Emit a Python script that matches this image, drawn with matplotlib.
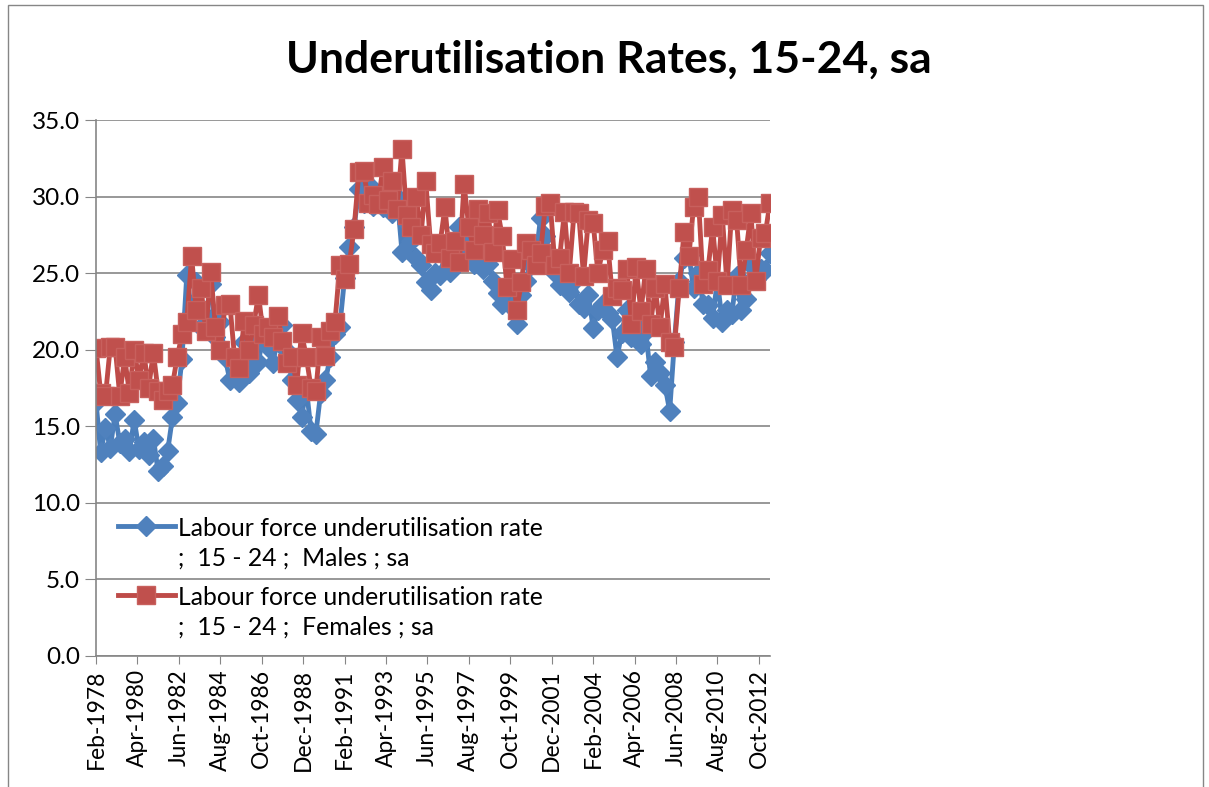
import numpy as np
import pandas as pd
import matplotlib
import matplotlib.pyplot as plt
import matplotlib.dates as mdates
from matplotlib.patches import Rectangle

matplotlib.use('Agg')

# quarterly readings, Feb-1978 .. May-2013
start = '1978-02-01'
males = [
    16.6, 13.3, 14.9, 13.6,
    15.8, 13.9, 14.2, 13.4,
    15.4, 13.5, 14.0, 13.1,
    14.2, 12.1, 12.4, 13.4,
    15.6, 16.5, 19.4, 24.9,
    22.4, 24.4, 21.5, 22.2,
    24.3, 20.8, 21.8, 19.5,
    18.0, 19.3, 17.9, 20.5,
    18.5, 20.6, 19.2, 21.0,
    20.2, 19.1, 20.7, 21.6,
    19.9, 18.0, 16.7, 15.6,
    17.5, 14.7, 14.5, 17.2,
    18.0, 19.5, 21.0, 21.5,
    24.7, 26.7, 28.0, 30.5,
    29.6, 30.8, 29.4, 30.2,
    29.3, 30.6, 28.9, 30.0,
    26.4, 28.3, 27.1, 26.0,
    25.5, 24.4, 23.9, 25.0,
    24.9, 26.2, 25.1, 26.4,
    28.0, 26.6, 27.2, 25.6,
    26.0, 25.3, 25.6, 24.5,
    23.7, 23.0, 24.0, 22.8,
    21.7, 23.6, 24.5, 25.5,
    26.0, 28.6, 27.4, 26.2,
    25.0, 24.2, 24.6, 23.8,
    24.5, 23.0, 22.7, 23.6,
    21.4, 22.6, 23.0, 22.4,
    22.0, 19.5, 21.1, 22.6,
    20.8, 21.6, 20.4, 21.2,
    18.3, 19.2, 18.5, 17.7,
    16.0, 20.5, 24.5, 26.0,
    26.2, 24.0, 25.0, 23.0,
    22.9, 22.1, 24.5, 21.8,
    22.6, 22.3, 24.8, 22.6,
    23.3, 25.5, 24.6, 25.3,
    25.2, 26.3,
]
females = [
    20.1, 17.2, 17.0, 20.2,
    20.2, 17.0, 19.5, 17.2,
    20.0, 18.0, 19.8, 17.5,
    19.8, 17.3, 16.7, 17.3,
    17.7, 19.5, 21.0, 21.8,
    26.1, 22.6, 24.0, 21.2,
    25.1, 21.5, 20.0, 22.9,
    23.0, 19.5, 18.8, 21.9,
    20.0, 21.6, 23.6, 21.0,
    21.5, 20.8, 22.2, 20.6,
    19.1, 19.5, 17.7, 21.1,
    19.5, 17.5, 17.3, 20.8,
    19.6, 21.2, 21.8, 25.5,
    24.6, 25.6, 27.9, 31.6,
    31.7, 29.6, 30.1, 29.5,
    31.9, 29.8, 31.0, 29.2,
    33.1, 28.8, 28.0, 30.0,
    27.5, 31.0, 26.9, 26.3,
    27.0, 29.3, 26.0, 27.1,
    25.7, 30.8, 28.0, 26.5,
    29.2, 27.5, 28.9, 26.4,
    29.1, 27.4, 24.1, 25.9,
    22.6, 24.4, 27.0, 26.5,
    25.5, 26.3, 29.4, 29.6,
    25.5, 26.0, 29.0, 25.0,
    29.0, 28.9, 24.8, 28.5,
    28.3, 25.0, 26.5, 27.1,
    23.5, 24.0, 23.9, 25.3,
    21.7, 25.4, 22.5, 25.3,
    21.7, 24.0, 21.5, 24.3,
    20.5, 20.2, 24.0, 27.7,
    26.1, 29.3, 30.0, 24.3,
    25.2, 28.0, 24.5, 28.8,
    24.2, 29.1, 28.5, 24.2,
    26.5, 28.9, 24.5, 27.3,
    27.6, 29.6,
]
labels = ['Labour force underutilisation rate\n;  15 - 24 ;  Males ; sa',
          'Labour force underutilisation rate\n;  15 - 24 ;  Females ; sa']
title = 'Underutilisation Rates, 15-24, sa'

dates = pd.date_range(start, periods=len(males), freq='3MS')
ticks = pd.date_range(start, dates[-1], freq='26MS')

plt.rcParams['font.family'] = ['Lato', 'DejaVu Sans']
grey = '#868686'
blue = '#4a7ebb'
red = '#be4b48'

fig = plt.figure(figsize=(12.09, 7.87), dpi=100)
fig.patches.append(Rectangle((8 / 1209, -0.05), 1195 / 1209, 1.05 - 5 / 787,
                             transform=fig.transFigure, fill=False,
                             edgecolor=grey, lw=1))
ax = fig.add_axes([96 / 1209, 1 - 656 / 787, 674 / 1209, 536 / 787])

ax.plot(dates, males, color=blue, lw=3.5, marker='D', ms=10,
        mfc='#4f81bd', mec='#4f81bd', label=labels[0])
ax.plot(dates, females, color=red, lw=3.5, marker='s', ms=13,
        mfc='#c0504d', mec='#c8605d', mew=1, label=labels[1])

ax.set_ylim(0, 35)
ax.set_yticks(np.arange(0, 35.1, 5))
ax.yaxis.set_major_formatter(matplotlib.ticker.FormatStrFormatter('%.1f'))
ax.set_xlim(dates[0], dates[-1])
ax.set_xticks(ticks)
ax.xaxis.set_major_formatter(mdates.DateFormatter('%b-%Y'))
ax.tick_params(axis='x', labelrotation=90, length=6, color=grey, labelsize=16.5)
ax.tick_params(axis='y', length=8, color=grey, labelsize=17.5)
ax.grid(axis='y', color=grey, lw=1.2)
ax.set_axisbelow(True)
for s in ['top', 'right']:
    ax.spines[s].set_visible(False)
for s in ['left', 'bottom']:
    ax.spines[s].set_color(grey)
    ax.spines[s].set_linewidth(1.2)

leg = ax.legend(loc='upper left', bbox_to_anchor=(118 / 1209, 1 - 517 / 787),
                bbox_transform=fig.transFigure, frameon=False, fontsize=17.8,
                handlelength=2.3, handletextpad=0.12, labelspacing=0.7,
                borderpad=0, borderaxespad=0)
for t in leg.get_texts():
    t.set_linespacing(1.32)
# put the marker on the first line of each two-line label
for col in leg._legend_handle_box.get_children():
    for item in col.get_children():
        item.align = 'top'

fig.text(609 / 1209, 1 - 60 / 787, title, ha='center', va='center',
         fontsize=32, fontweight='bold')

fig.savefig('out.png', dpi=100)
